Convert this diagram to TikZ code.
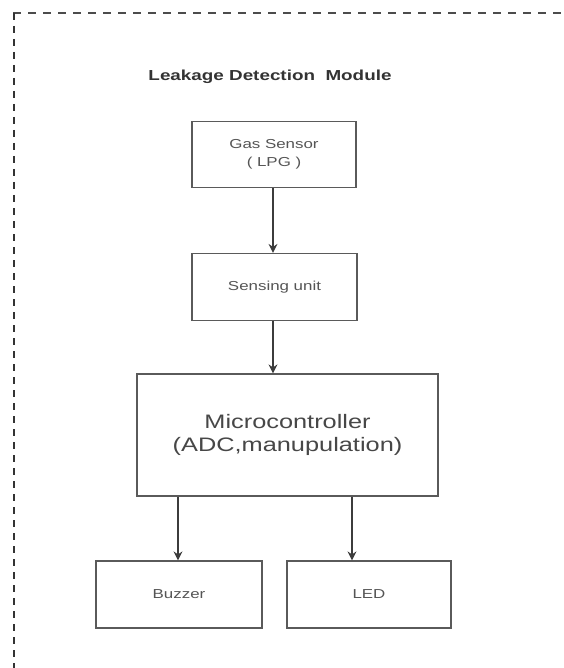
\documentclass[tikz,border=0pt]{standalone}
\usepackage{fontspec}
\setmainfont{Liberation Sans}
\newfontfamily\widesans[FakeStretch=1.3]{Liberation Sans}
\usetikzlibrary{arrows.meta}
\definecolor{boxline}{HTML}{5A5A5A}
\definecolor{txtgray}{HTML}{555555}
\definecolor{arrgray}{HTML}{3C3C3C}
\tikzset{
  block/.style={draw=boxline, line width=1.2pt, rectangle, inner sep=0pt,
    align=center, text=txtgray},
  smalltext/.style={font=\widesans\fontsize{13}{18}\selectfont},
  bigtext/.style={font=\widesans\fontsize{19.5}{23}\selectfont, text=black!72},
  flow/.style={draw=arrgray, line width=1.3pt,
    -{Stealth[length=9pt, width=9pt, inset=3pt]}},
  topframe/.style={draw=black!70, line width=1.5pt, dash pattern=on 8pt off 7pt},
  sideframe/.style={draw=black!80, line width=2pt, dash pattern=on 7pt off 6pt}
}
\begin{document}
\begin{tikzpicture}[x=1pt, y=-1pt]
  \useasboundingbox (0,0) rectangle (563,668);
  \clip (0,0) rectangle (563,668);
  \fill[white] (0,0) rectangle (563,668);

  % module outline, running off the right and bottom edges
  \draw[topframe] (13,13) -- (585,13);
  \draw[sideframe] (14,13) -- (14,690);

  % title
  \node[text=black!80, font=\widesans\bfseries\fontsize{14.5}{17}\selectfont]
    (title) at (270,77) {Leakage Detection\ \ Module};

  % blocks
  \node[block, smalltext, minimum width=164pt, minimum height=66pt]
    (gas) at (274,154.5) {Gas Sensor\\( LPG )};
  \node[block, smalltext, minimum width=165pt, minimum height=67pt]
    (sense) at (274.5,287) {Sensing unit};
  \node[block, bigtext, minimum width=301pt, minimum height=122pt]
    (mcu) at (287.5,435) {Microcontroller\\(ADC,manupulation)};
  \node[block, smalltext, minimum width=166pt, minimum height=67pt]
    (buzz) at (179,594.5) {Buzzer};
  \node[block, smalltext, minimum width=164pt, minimum height=67pt]
    (led) at (369,594.5) {LED};

  % signal flow
  \draw[flow] ([xshift=-1pt]gas.south) -- ([xshift=-1pt]gas.south |- sense.north);
  \draw[flow] ([xshift=-1.5pt]sense.south) -- ([xshift=-1.5pt]sense.south |- mcu.north);
  \draw[flow] ([xshift=-1pt]buzz.north |- mcu.south) -- ([xshift=-1pt]buzz.north);
  \draw[flow] ([xshift=-17pt]led.north |- mcu.south) -- ([xshift=-17pt]led.north);
\end{tikzpicture}
\end{document}
